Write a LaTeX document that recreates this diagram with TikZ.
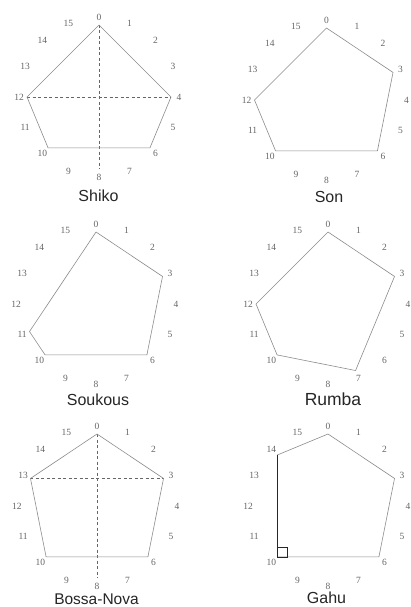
\documentclass[tikz,border=0pt]{standalone}
\usepackage{fontspec}
\setmainfont{Liberation Serif}
\setsansfont{Liberation Sans}
\tikzset{
  num/.style={font=\fontsize{9.5}{10}\selectfont, text=black!60, inner sep=0pt},
  ttl/.style={font=\sffamily\fontsize{16}{17}\selectfont, text=black!85, inner sep=0pt, anchor=base},
  edge/.style={draw=black!45, line width=0.6pt, line join=round},
  cross/.style={draw=black!60, line width=0.6pt, dash pattern=on 3pt off 2.5pt},
  darkedge/.style={draw=black!85, line width=0.8pt},
  marker/.style={draw=black!85, line width=0.7pt},
}
\newcommand\mypanel[3]{%
  \foreach \k in {0,...,15}{%
    \coordinate (#1-\k) at ({#2+72*cos(90-22.5*\k)}, {#3-72*sin(90-22.5*\k)});
    \node[num] (#1-l\k) at ({#2+80*cos(90-22.5*\k)}, {#3-80*sin(90-22.5*\k)}) {\k};
  }%
}
\begin{document}
\begin{tikzpicture}[x=1pt, y=-1pt]
  \useasboundingbox[fill=white] (0,0) rectangle (410,607);
  % panels
  \mypanel{A}{99}{97}
  \mypanel{B}{326.5}{100}
  \mypanel{C}{96}{304}
  \mypanel{D}{328}{304}
  \mypanel{E}{97}{506}
  \mypanel{F}{328}{506}
  % Shiko
  \draw[cross] (A-0) -- (A-8);
  \draw[cross] (A-12) -- (A-4);
  \draw[edge] (A-0) -- (A-4) -- (A-6) -- (A-10) -- (A-12) -- cycle;
  \node[ttl] (tA) at (98.5,201) {Shiko};
  % Son
  \draw[edge] (B-0) -- (B-3) -- (B-6) -- (B-10) -- (B-12) -- cycle;
  \node[ttl] (tB) at (329,202) {Son};
  % Soukous
  \draw[edge] (C-0) -- (C-3) -- (C-6) -- (C-10) -- (C-11) -- cycle;
  \node[ttl] (tC) at (98,405) {Soukous};
  % Rumba
  \draw[edge] (D-0) -- (D-3) -- (D-7) -- (D-10) -- (D-12) -- cycle;
  \node[ttl, font=\sffamily\fontsize{17.5}{18}\selectfont] (tD) at (333,405) {Rumba};
  % Bossa-Nova
  \draw[cross] (E-0) -- (E-8);
  \draw[cross] (E-13) -- (E-3);
  \draw[edge] (E-0) -- (E-3) -- (E-6) -- (E-10) -- (E-13) -- cycle;
  \node[ttl, font=\sffamily\fontsize{15.5}{16}\selectfont] (tE) at (96.5,604) {Bossa-Nova};
  % Gahu
  \draw[edge] (F-0) -- (F-3) -- (F-6) -- (F-10);
  \draw[edge] (F-14) -- (F-0);
  \draw[darkedge] (F-14) -- (F-10);
  \draw[marker] (F-10) rectangle ++(10,-10);
  \node[ttl] (tF) at (326.5,603.5) {Gahu};
\end{tikzpicture}
\end{document}
